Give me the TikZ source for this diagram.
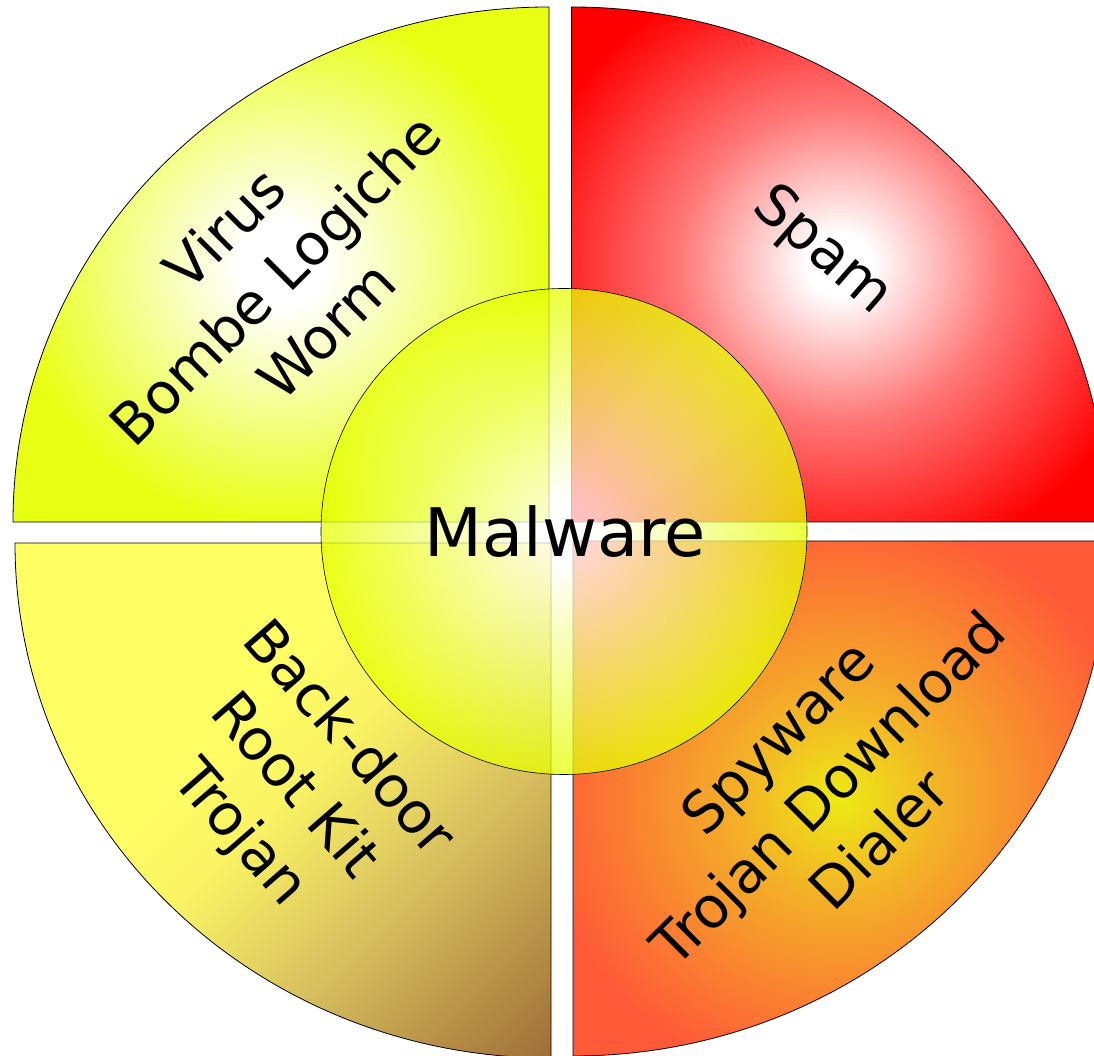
\documentclass[tikz,border=0pt]{standalone}
\usepackage{fontspec}
\setmainfont{DejaVu Sans}
\definecolor{tly}{RGB}{232,255,20}
\definecolor{trr}{RGB}{255,0,0}
\definecolor{trp}{RGB}{255,120,120}
\definecolor{bry}{RGB}{236,234,20}
\definecolor{bro}{RGB}{244,175,40}
\definecolor{brr}{RGB}{255,90,55}
\definecolor{bly}{RGB}{255,255,100}
\definecolor{blm}{RGB}{250,243,100}
\definecolor{blt}{RGB}{215,190,95}
\definecolor{blb}{RGB}{160,112,55}
\definecolor{cy}{RGB}{230,255,0}
\pgfdeclareradialshading{tlshade}{\pgfpoint{0bp}{0bp}}{color(0bp)=(white); color(4bp)=(white); color(25bp)=(tly); color(50bp)=(tly)}
\pgfdeclareradialshading{trshade}{\pgfpoint{0bp}{0bp}}{color(0bp)=(white); color(3bp)=(white); color(15bp)=(trp); color(30bp)=(trr); color(50bp)=(trr)}
\pgfdeclareradialshading{brshade}{\pgfpoint{0bp}{0bp}}{color(0bp)=(bry); color(10bp)=(bro); color(28bp)=(brr); color(50bp)=(brr)}
\pgfdeclareverticalshading{blshade}{100bp}{color(0bp)=(blb); color(15bp)=(blb); color(35bp)=(blt); color(50bp)=(blm); color(60bp)=(bly); color(100bp)=(bly)}
\pgfdeclareradialshading{cshade}{\pgfpoint{0bp}{0bp}}{color(0bp)=(white); color(3bp)=(white); color(25bp)=(cy); color(50bp)=(cy)}
\tikzset{
  quad/.style={draw=black, line width=0.8pt},
  lbl/.style={font=\fontsize{57}{72}\selectfont, align=center, inner sep=0pt},
}
\begin{document}
\begin{tikzpicture}[x=1pt,y=1pt]
\useasboundingbox (0,0) rectangle (1094,1056);
\clip (0,0) rectangle (1094,1056);
% quadrants
\shadedraw[quad, shading=tlshade] (549,534) -- (549,1049) arc[start angle=90, end angle=180, x radius=536, y radius=515] -- cycle;
\shadedraw[quad, shading=trshade] (571.5,534) -- (1107.5,534) arc[start angle=0, end angle=90, x radius=536, y radius=515] -- cycle;
\shadedraw[quad, shading=brshade] (573,515) -- (573,0) arc[start angle=270, end angle=360, x radius=536, y radius=515] -- cycle;
\shadedraw[quad, shading=blshade, shading angle=45] (551,513) -- (15,513) arc[start angle=180, end angle=270, x radius=536, y radius=515] -- cycle;
% centre circle
\shadedraw[shading=cshade, fill opacity=0.75, draw=black, line width=0.6pt] (564,524.5) circle[radius=243];
% labels
\node[lbl, rotate=45] (tl) at (275,777) {Virus\\Bombe Logiche\\Worm};
\node[lbl, rotate=-41] (tr) at (822,805) {Spam};
\node[lbl, rotate=-49] (bl) at (293,269) {Back-door\\Root Kit\\Trojan};
\node[lbl, rotate=45] (br) at (828,268) {Spyware\\Trojan Download\\Dialer};
\node[font=\fontsize{67}{80}\selectfont, anchor=base, inner sep=0pt] (c) at (565,499) {Malware};
\end{tikzpicture}
\end{document}
